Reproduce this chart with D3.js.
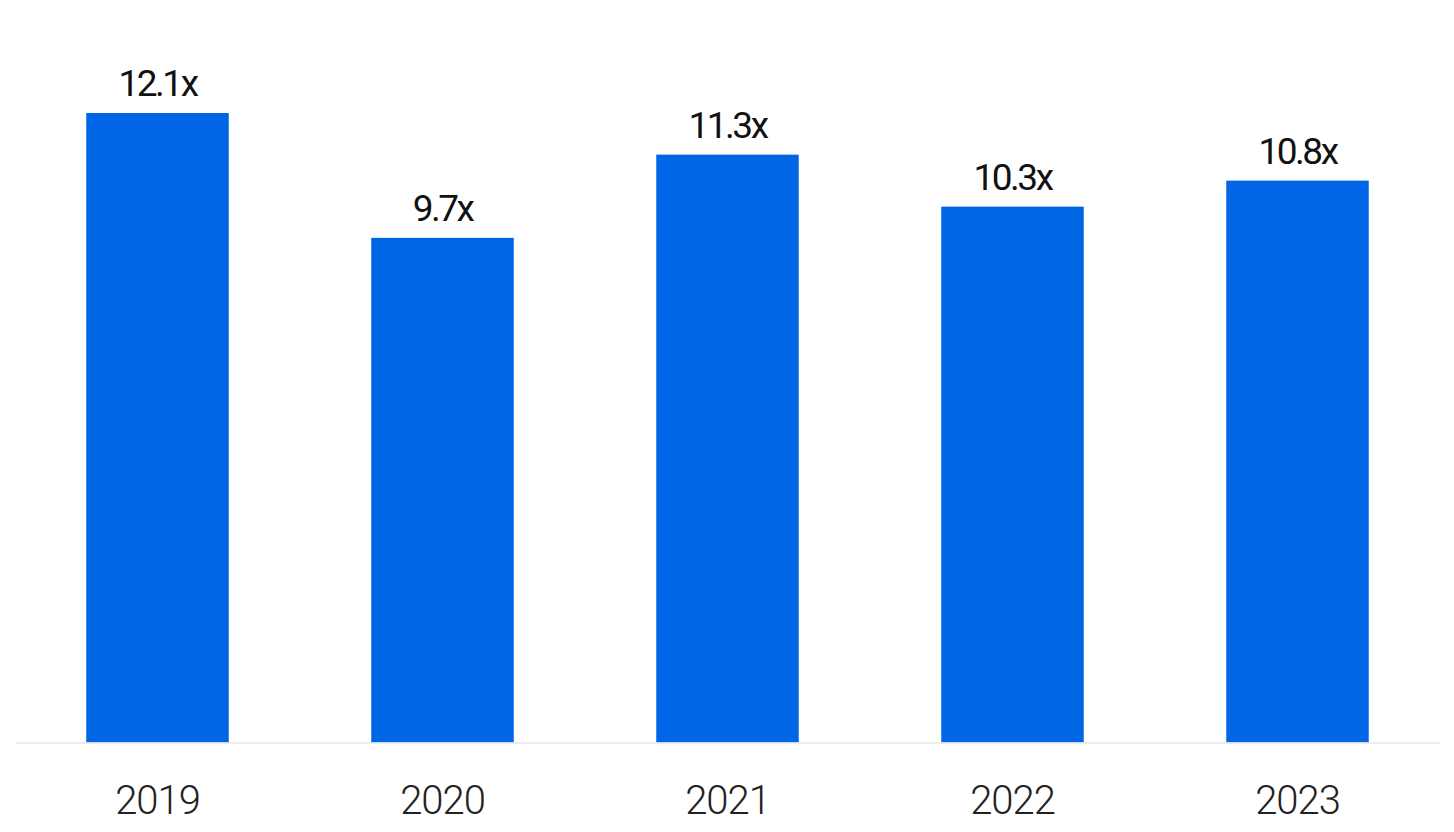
<!DOCTYPE html>
<html>
<head>
<meta charset="utf-8">
<script src="https://cdn.jsdelivr.net/npm/d3@7"></script>
<style>
  body { margin: 0; background: #fff; }
</style>
</head>
<body>
<div class="graph"></div>
<script>
var years = ["2019", "2020", "2021", "2022", "2023"];
var multiples = [12.1, 9.7, 11.3, 10.3, 10.8];
var valueLabels = ["12.1x", "9.7x", "11.3x", "10.3x", "10.8x"];

var width = 1454,
    height = 832;
var baseY = 742.5, topY = 113;

var svg = d3.select(".graph").append("svg")
  .attr("width", width).attr("height", height);

var x = d3.scaleBand().domain(years).range([15, 1440]).paddingInner(0.5).paddingOuter(0.25);
var y = d3.scaleLinear().domain([0, d3.max(multiples)]).range([baseY, topY]);

var data = years.map(function (yr, i) { return { year: yr, v: multiples[i], label: valueLabels[i] }; });

// bars
svg.selectAll("rect.bar").data(data).enter().append("rect")
  .attr("class", "bar")
  .attr("x", function (d) { return x(d.year); })
  .attr("y", function (d) { return y(d.v); })
  .attr("width", x.bandwidth())
  .attr("height", function (d) { return baseY - y(d.v); })
  .style("fill", "#0066e6");

// baseline axis
var axis = svg.append("g").attr("transform", "translate(0," + baseY + ")")
  .call(d3.axisBottom(x).tickSize(0).tickPadding(0));
axis.select(".domain").attr("stroke", "#e6e6e6").attr("stroke-width", 1.5);
axis.selectAll("text")
  .attr("dy", null).attr("y", 71)
  .style("font-family", "Roboto, sans-serif")
  .style("font-weight", 300)
  .style("font-size", "40px")
  .style("letter-spacing", "-1px")
  .style("fill", "#222");

// value labels
svg.selectAll("text.val").data(data).enter().append("text")
  .attr("class", "val")
  .attr("x", function (d) { return x(d.year) + x.bandwidth() / 2; })
  .attr("y", function (d) { return y(d.v) - 17; })
  .attr("text-anchor", "middle")
  .style("font-family", "Roboto, sans-serif")
  .style("font-size", "37px")
  .style("letter-spacing", "-2.5px")
  .style("fill", "#111")
  .text(function (d) { return d.label; });
</script>
</body>
</html>
